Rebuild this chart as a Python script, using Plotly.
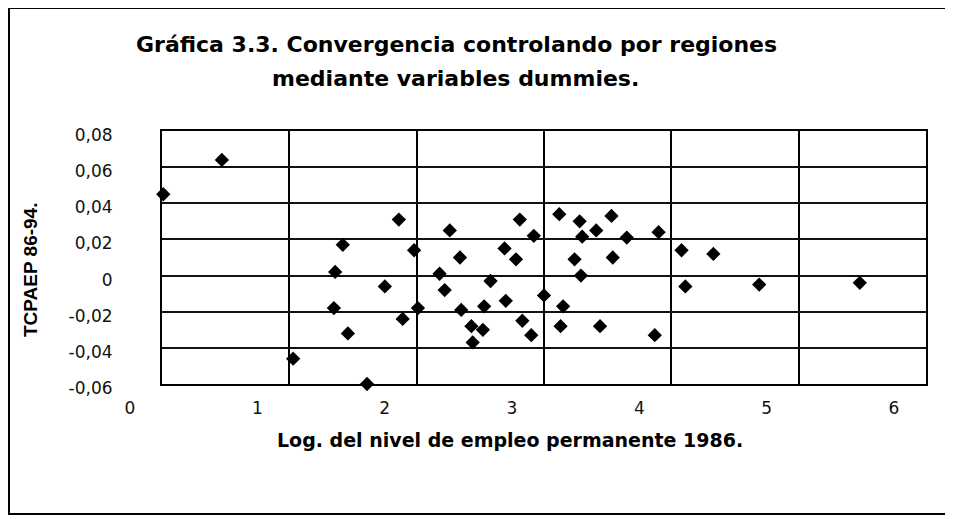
import plotly.graph_objects as go

# Log. del nivel de empleo permanente 1986 (x) and TCPAEP 86-94 (y)
log_empleo = [0.01, 0.47, 1.86, 1.42, 1.98, 1.36, 1.75, 1.35, 2.01, 1.89,
              1.46, 1.03, 1.61, 2.26, 2.34, 2.18, 2.22, 2.35, 2.58, 2.53,
              2.43, 2.52, 2.44, 2.70, 2.69, 2.78, 2.81, 2.92, 2.83, 2.90,
              3.00, 3.15, 3.13, 3.44, 3.12, 3.28, 3.30, 3.41, 3.24, 3.29,
              3.53, 3.65, 3.90, 3.54, 3.87, 4.08, 4.33, 4.11, 4.69, 5.48]
tcpaep = [0.045, 0.064, 0.031, 0.017, 0.014, 0.002, -0.006, -0.018, -0.018, -0.024,
          -0.032, -0.046, -0.060, 0.025, 0.010, 0.001, -0.008, -0.019, -0.003, -0.017,
          -0.028, -0.030, -0.037, -0.014, 0.015, 0.009, 0.031, 0.022, -0.025, -0.033,
          -0.011, -0.017, -0.028, -0.028, 0.034, 0.030, 0.0215, 0.025, 0.009, 0.000,
          0.033, 0.021, 0.024, 0.010, -0.033, 0.014, 0.012, -0.006, -0.005, -0.004]

x_ticks = [0, 1, 2, 3, 4, 5, 6]
x_tick_labels = ["0", "1", "2", "3", "4", "5", "6"]
y_ticks = [-0.06, -0.04, -0.02, 0, 0.02, 0.04, 0.06, 0.08]
y_tick_labels = ["-0,06", "-0,04", "-0,02", "0", "0,02", "0,04", "0,06", "0,08"]

title_line1 = "Gráfica 3.3. Convergencia controlando por regiones"
title_line2 = "mediante variables dummies."
x_title = "Log. del nivel de empleo permanente 1986."
y_title = "TCPAEP 86-94."

FONT = "Liberation Sans, Arial, Helvetica, sans-serif"
WIDE = "DejaVu Sans, Verdana, sans-serif"

fig = go.Figure()
fig.add_trace(go.Scatter(
    x=log_empleo, y=tcpaep, mode="markers",
    marker=dict(symbol="diamond", size=11, color="black"),
    showlegend=False, cliponaxis=False,
))

# the page body adds an 8 px offset; positions below are in page pixels
OFF = 8
W, H = 953 - OFF, 519 - OFF
L, T = 162 - OFF, 131 - OFF
R = W - (926 - OFF)
B = H - (384 - OFF)
pw, ph = W - L - R, H - T - B

def px(xp):
    return (xp - OFF - L) / pw

def py(yp):
    return (H - B - (yp - OFF)) / ph

fig.update_layout(
    width=W, height=H,
    margin=dict(l=L, r=R, t=T, b=B),
    paper_bgcolor="white", plot_bgcolor="white",
    font=dict(family=FONT, color="black", size=17),
    xaxis=dict(
        range=[0, 6], tickvals=x_ticks, ticktext=x_tick_labels,
        showgrid=True, gridcolor="black", gridwidth=2,
        showline=True, linecolor="black", linewidth=2, mirror=True,
        zeroline=False, ticks="", ticklabelshift=-32, ticklabelstandoff=8,
        tickfont=dict(size=17, family=WIDE, color="#111"),
    ),
    yaxis=dict(
        range=[-0.06, 0.08], tickvals=y_ticks, ticktext=y_tick_labels,
        showgrid=True, gridcolor="#111", gridwidth=2,
        showline=True, linecolor="black", linewidth=2, mirror=True,
        zeroline=False, ticks="", ticklabelshift=4, ticklabelstandoff=44,
        tickfont=dict(size=17, family=WIDE, color="#111"),
    ),
    shapes=[dict(
        type="rect", xref="paper", yref="paper",
        x0=px(9), x1=px(951), y0=py(8), y1=py(514),
        line=dict(color="black", width=2), fillcolor="rgba(0,0,0,0)", layer="below",
    )],
    annotations=[
        dict(text="<b>" + title_line1 + "</b>", xref="paper", yref="paper",
             x=px(456), y=py(45), showarrow=False, xanchor="center", yanchor="middle",
             font=dict(size=22, family=WIDE, color="black")),
        dict(text="<b>" + title_line2 + "</b>", xref="paper", yref="paper",
             x=px(455), y=py(78), showarrow=False, xanchor="center", yanchor="middle",
             font=dict(size=22, family=WIDE, color="black")),
        dict(text="<b>" + x_title + "</b>", xref="paper", yref="paper",
             x=px(510), y=py(440), showarrow=False, xanchor="center", yanchor="middle",
             font=dict(size=19, family=WIDE, color="black")),
        dict(text="<b>" + y_title + "</b>", xref="paper", yref="paper",
             x=px(30), y=py(270), showarrow=False, xanchor="center", yanchor="middle",
             textangle=-90, font=dict(size=19, family=FONT, color="black")),
    ],
)

fig.write_html("out.html")
